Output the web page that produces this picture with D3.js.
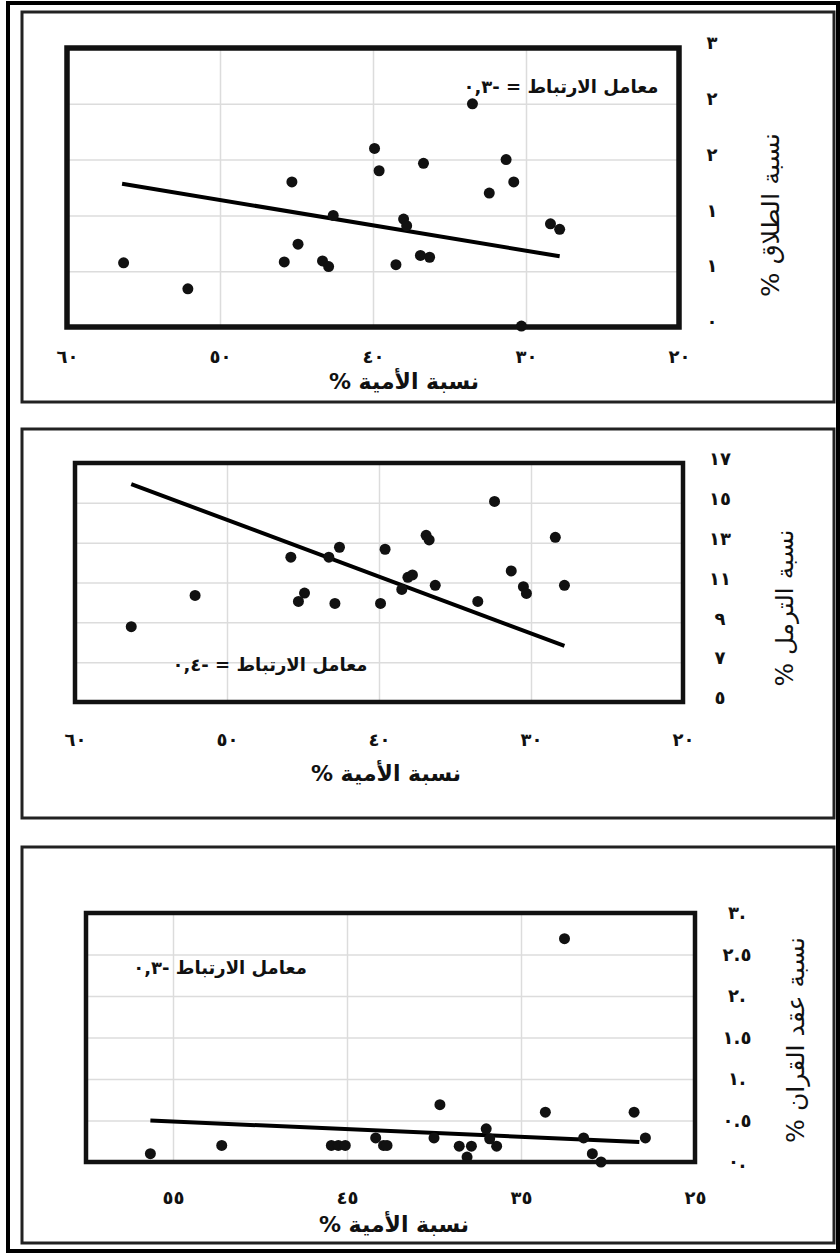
<!DOCTYPE html>
<html>
<head>
<meta charset="utf-8">
<script src="https://cdn.jsdelivr.net/npm/d3@7"></script>
<style>
  body { margin: 0; background: #fff; }
  svg { display: block; }
  .tick text { font-family: "DejaVu Sans", sans-serif; font-weight: bold; font-size: 18px; fill: #111; }
  .grid line { stroke: #dcdcdc; stroke-width: 1.5; }
  .grid path { display: none; }
  .title { font-family: "DejaVu Sans", sans-serif; fill: #111; }
</style>
</head>
<body>
<script>
// illiteracy % (x) against divorce %, widowhood %, marriage-contract %
var divorceX = [56.3, 52.1, 45.8, 45.3, 44.9, 43.3, 42.9, 42.6, 39.9, 39.6, 38.5, 38.0, 37.8, 36.9, 36.3, 36.7, 33.5, 32.4, 31.3, 30.8, 30.3, 28.4, 27.8];
var divorceY = [0.69, 0.41, 0.70, 1.56, 0.89, 0.71, 0.65, 1.20, 1.92, 1.68, 0.67, 1.16, 1.09, 0.77, 0.75, 1.76, 2.40, 1.44, 1.80, 1.56, 0.01, 1.11, 1.05];
var divorceTrend = [[56.4, 1.54], [27.8, 0.76]];

var widowX = [56.3, 52.1, 45.8, 45.3, 44.9, 43.3, 42.6, 42.9, 39.9, 39.6, 38.5, 38.1, 37.8, 36.9, 36.7, 36.3, 33.5, 32.4, 31.3, 30.5, 30.3, 28.4, 27.8];
var widowY = [8.78, 10.35, 12.27, 10.05, 10.47, 12.27, 12.77, 9.95, 9.95, 12.67, 10.65, 11.26, 11.38, 13.37, 13.14, 10.86, 10.05, 15.07, 11.58, 10.79, 10.45, 13.27, 10.86];
var widowTrend = [[56.3, 15.94], [27.8, 7.82]];

var marriageX = [56.3, 52.2, 45.9, 45.5, 45.1, 43.35, 42.9, 42.7, 39.66, 40.0, 38.55, 38.1, 37.85, 37.0, 36.8, 36.4, 33.6, 32.5, 31.4, 30.9, 30.4, 28.5, 27.85];
var marriageY = [0.10, 0.20, 0.20, 0.20, 0.20, 0.29, 0.20, 0.20, 0.69, 0.29, 0.19, 0.06, 0.19, 0.40, 0.28, 0.19, 0.60, 2.69, 0.29, 0.10, 0.0, 0.60, 0.29];
var marriageTrend = [[56.3, 0.50], [28.2, 0.24]];

var xTicksA = [60, 50, 40, 30, 20];
var xLabelsA = ["٦٠", "٥٠", "٤٠", "٣٠", "٢٠"];
var xTicksB = [55, 45, 35, 25];
var xLabelsB = ["٥٥", "٤٥", "٣٥", "٢٥"];

var divorceTicks = [0, 0.6, 1.2, 1.8, 2.4, 3];
var divorceLabels = ["٠", "١", "١", "٢", "٢", "٣"];
var widowTicks = [5, 7, 9, 11, 13, 15, 17];
var widowLabels = ["٥", "٧", "٩", "١١", "١٣", "١٥", "١٧"];
var marriageTicks = [0, 0.5, 1, 1.5, 2, 2.5, 3];
var marriageLabels = ["٠.", "٠.٥", "١.", "١.٥", "٢.", "٢.٥", "٣."];

var xTitle = "نسبة الأمية %";

var svg = d3.select("body").append("svg")
    .attr("width", 840)
    .attr("height", 1256);

// outer frame
svg.append("rect")
    .attr("x", 8).attr("y", 3).attr("width", 830).attr("height", 1248)
    .attr("fill", "none").attr("stroke", "#000").attr("stroke-width", 4);

var panels = [
    { box: [22, 12, 812, 390], plot: { l: 67, r: 679, t: 48, b: 327 }, stroke: 5.5,
      xs: divorceX, ys: divorceY, trend: divorceTrend,
      xDomain: [60, 20], xTicks: xTicksA, xLabels: xLabelsA, xGrid: [50, 40, 30],
      yDomain: [0, 3], yTicks: divorceTicks, yLabels: divorceLabels, yDy: -5,
      xLabelY: 357, yLabelX: 712, xTitleAt: [404, 381], yTitleAt: [771, 215], yTitleLen: 164,
      yTitle: "نسبة الطلاق %", corr: "معامل الارتباط = -٠,٣", corrAt: [561, 87] },
    { box: [22, 429, 812, 389], plot: { l: 75, r: 683, t: 463, b: 702 }, stroke: 4.5,
      xs: widowX, ys: widowY, trend: widowTrend,
      xDomain: [60, 20], xTicks: xTicksA, xLabels: xLabelsA, xGrid: [50, 40, 30],
      yDomain: [5, 17], yTicks: widowTicks, yLabels: widowLabels, yDy: -4,
      xLabelY: 740, yLabelX: 720, xTitleAt: [386, 773], yTitleAt: [785, 608], yTitleLen: 157,
      yTitle: "نسبة الترمل %", corr: "معامل الارتباط = -٠,٤", corrAt: [270, 665] },
    { box: [22, 847, 812, 396], plot: { l: 86, r: 695, t: 913, b: 1162 }, stroke: 4.5,
      xs: marriageX, ys: marriageY, trend: marriageTrend,
      xDomain: [60, 25], xTicks: xTicksB, xLabels: xLabelsB, xGrid: [55, 45, 35],
      yDomain: [0, 3], yTicks: marriageTicks, yLabels: marriageLabels, yDy: 0,
      xLabelY: 1198, yLabelX: 737, xTitleAt: [394, 1224], yTitleAt: [796, 1040], yTitleLen: 206,
      yTitle: "نسبة عقد القران %", corr: "معامل الارتباط -٠,٣", corrAt: [220, 968] }
];

panels.forEach(function (p) {
    var x = d3.scaleLinear().domain(p.xDomain).range([p.plot.l, p.plot.r]),
        y = d3.scaleLinear().domain(p.yDomain).range([p.plot.b, p.plot.t]),
        g = svg.append("g");

    g.append("rect")
        .attr("x", p.box[0]).attr("y", p.box[1])
        .attr("width", p.box[2]).attr("height", p.box[3])
        .attr("fill", "#fff").attr("stroke", "#222").attr("stroke-width", 3);

    // gridlines
    g.append("g")
        .attr("class", "grid")
        .attr("transform", "translate(0," + p.plot.b + ")")
        .call(d3.axisBottom(x).tickValues(p.xGrid).tickSize(p.plot.t - p.plot.b).tickFormat(""));
    g.append("g")
        .attr("class", "grid")
        .attr("transform", "translate(" + p.plot.l + ",0)")
        .call(d3.axisLeft(y).tickValues(p.yTicks).tickSize(p.plot.l - p.plot.r).tickFormat(""));

    // tick labels
    var xa = g.append("g")
        .attr("transform", "translate(0," + p.xLabelY + ")")
        .call(d3.axisBottom(x).tickValues(p.xTicks).tickSize(0)
            .tickFormat(function (d, i) { return p.xLabels[i]; }));
    xa.select(".domain").remove();
    xa.selectAll("text").attr("y", 0).attr("dy", "0.35em");

    var ya = g.append("g")
        .attr("transform", "translate(" + p.yLabelX + "," + p.yDy + ")")
        .call(d3.axisRight(y).tickValues(p.yTicks).tickSize(0)
            .tickFormat(function (d, i) { return p.yLabels[i]; }));
    ya.select(".domain").remove();
    ya.selectAll("text").attr("x", 0).attr("text-anchor", "middle");

    // trend line
    g.append("path")
        .datum(p.trend)
        .attr("fill", "none").attr("stroke", "#000").attr("stroke-width", 4)
        .attr("d", d3.line().x(function (d) { return x(d[0]); }).y(function (d) { return y(d[1]); }));

    // points
    g.append("g").selectAll("circle")
        .data(p.xs)
        .enter().append("circle")
        .attr("cx", function (d) { return x(d); })
        .attr("cy", function (d, i) { return y(p.ys[i]); })
        .attr("r", 5.5)
        .attr("fill", "#111");

    // plot frame
    g.append("rect")
        .attr("x", p.plot.l).attr("y", p.plot.t)
        .attr("width", p.plot.r - p.plot.l).attr("height", p.plot.b - p.plot.t)
        .attr("fill", "none").attr("stroke", "#111").attr("stroke-width", p.stroke);

    g.append("text")
        .attr("class", "title")
        .attr("direction", "rtl")
        .attr("x", p.corrAt[0]).attr("y", p.corrAt[1])
        .attr("text-anchor", "middle").attr("dy", "0.35em")
        .attr("font-size", 18).attr("font-weight", "bold")
        .text(p.corr);

    g.append("text")
        .attr("class", "title")
        .attr("direction", "rtl")
        .attr("x", p.xTitleAt[0]).attr("y", p.xTitleAt[1])
        .attr("text-anchor", "middle").attr("dy", "0.35em")
        .attr("font-size", 22).attr("font-weight", "bold")
        .text(xTitle);

    g.append("text")
        .attr("class", "title")
        .attr("direction", "rtl")
        .attr("transform", "translate(" + p.yTitleAt[0] + "," + p.yTitleAt[1] + ") rotate(-90)")
        .attr("text-anchor", "middle").attr("dy", "0.35em")
        .attr("font-size", 24)
        .attr("textLength", p.yTitleLen).attr("lengthAdjust", "spacingAndGlyphs")
        .text(p.yTitle);
});
</script>
</body>
</html>
